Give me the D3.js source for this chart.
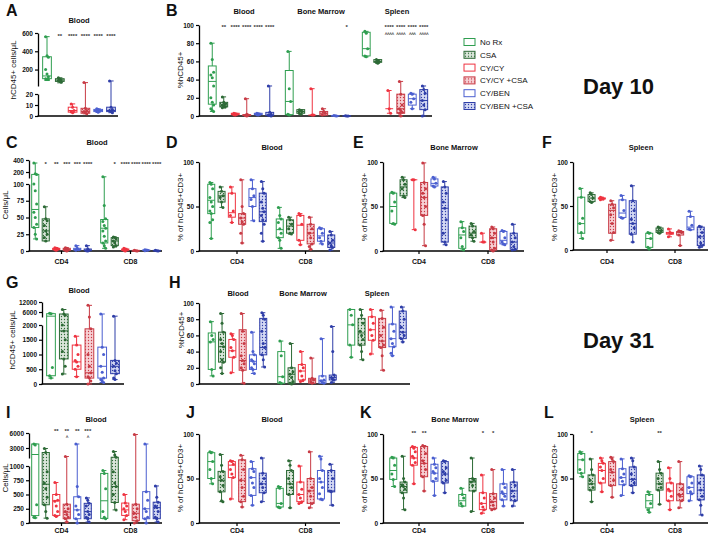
<!DOCTYPE html>
<html>
<head>
<meta charset="utf-8">
<script src="https://cdn.jsdelivr.net/npm/d3@7"></script>
<style>
body { margin: 0; background: #fff; }
svg { display: block; font-family: "Liberation Sans", Arial, sans-serif; }
</style>
</head>
<body>
<svg id="chart"></svg>
<script>
// treatment groups (legend order)
const treatments = ["No Rx", "CSA", "CY/CY", "CY/CY +CSA", "CY/BEN", "CY/BEN +CSA"]

// each box: [min, q1, median, q3, max]; each pts list: the dots drawn on that box
// A - Blood, hCD45+ cells/uL (day 10)
const aBox = [[80,100,130,340,560],[55,70,85,100,110],[3,3.5,5,8,11],[2,2.5,4,7,57],[3.5,4,5,6,6.5],[3,4,5,8,75]]
const aPts = [[560,350,335,200,150,120,100,95,90],[110,95,85,80,70,60],[11,8,5,4,3],[57,7,5,4,3,2],[6.5,6,5,4,3.5],[75,8,6,5,4,3]]
const aStars = ["","**","****","****","****","****"]

// B - %hCD45+ in Blood / Bone Marrow / Spleen (day 10)
const bBox = [
  [5,13,38,55,80],[9,10,12,15,21],[1,1.5,2,3,3],[0,0.5,1,1.5,19],[1,1.5,2,3,3],[0,0.5,1,4,33],
  [1,1.5,16,50,71],[2,3,5,7,7],[1,1,1,1,30],[0.5,1,3,5,8],[0,0,0.3,0.5,0.5],[0,0,0.1,0.2,0.3],
  [65,66,74,92,93],[58,59,60,62,62],[3,8,8,8,28],[0,3,8,24,38],[8,12,19,24,25],[0,7,17,29,33]]
const bPts = [
  [80,62,48,45,42,33,20,15,12,8,6,5],[21,15,13,12,11,10,9],[3,2.5,2,1.5,1],[19,2,1,0.5,0],[3,2.5,2,1.5,1],[33,4,2,1,0.5,0],
  [71,30,16,2,1],[7,6,5,3,2],[30,1,1],[8,5,3,1],[0.5,0.3,0],[0.3,0.1,0],
  [93,91,74,66,65],[62,61,60,59,58],[28,8,3],[38,24,12,8,6,4,3,0],[25,24,19,15,8],[33,29,25,17,12,7,0]]
const bStars = ["","**","****","****","****","****", "","","","","","*", "","","****","****","****","****"]
const bStars2 = ["","","","","","", "","","","","","", "","","^^^^","^^^^","^^^","^^^^"]

// C - Blood CD4 / CD8 cells/uL (day 10)
const cBox = [
  [18,35,62,160,350],[15,15,30,48,66],[1,2,3,4,5],[0,1,2,4,5],[1,1.5,2,4,8],[0,0.5,1,3,8],
  [4,12,34,47,120],[6,8,15,20,21],[0,1,2,3,4],[0,0,0.5,1,1],[0.5,1,1,1.5,2],[0,0.3,0.5,1,1]]
const cPts = [
  [350,170,160,100,90,70,58,50,40,35,25,18],[66,48,45,38,30,25,20,15],[5,4,3,2,1],[5,4,2,1,0],[8,4,2,1],[8,3,1,0.5,0],
  [120,68,48,44,38,34,30,22,15,12,8,4],[21,20,18,15,12,8,6],[4,3,2,1,0],[1,0.5,0],[2,1.5,1,0.5],[1,0.5,0]]
const cStars = ["","*","**","***","***","****", "","*","****","****","****","****"]

// D, E, F - % of hCD45+CD3+ (day 10)
const dBox = [
  [14,42,57,75,77],[49,55,62,67,72],[32,38,43,65,72],[9,30,37,42,80],[34,50,60,70,80],[11,33,44,65,78],
  [3,15,24,36,49],[19,20,28,35,38],[7,12,29,40,42],[2,8,20,30,38],[8,11,17,25,26],[1,4,9,18,22]]
const dPts = [
  [77,75,70,60,55,50,45,42,35,32,14],[72,67,62,60,55,49],[72,65,45,40,32],[80,50,42,37,33,30,20,9],[80,70,62,58,50,34],[78,70,65,55,48,44,40,35,30,20,11],
  [49,40,36,32,25,20,15,12,3],[38,35,30,25,20,19],[42,40,30,12,7],[38,30,25,20,15,8,5,2],[26,25,20,15,11,8],[22,18,12,9,6,4,1]]
const eBox = [
  [30,31,50,65,66],[60,62,72,80,83],[24,80,80,80,80],[6,40,60,77,99],[72,73,76,81,83],[7,10,48,72,78],
  [1,3,18,26,33],[11,15,20,28,31],[10,10,10,10,20],[0,1,15,25,27],[7,8,12,22,23],[1,2,10,20,30]]
const ePts = [
  [66,65,55,45,31,30],[83,80,75,70,62,60],[80,80,24],[99,77,70,65,60,50,40,30,6],[83,81,76,73,72],[78,72,65,55,48,35,20,10,7],
  [33,26,22,15,5,1],[31,28,22,18,15,11],[20,10,10],[27,25,20,15,10,3,1,0],[23,22,15,10,8,7],[30,20,15,10,5,2,1]]
const fBox = [
  [13,19,30,60,70],[54,55,59,63,65],[57,58,59,59,60],[11,19,45,52,56],[36,37,42,57,62],[9,18,30,56,73],
  [1,3,13,19,20],[19,20,22,25,26],[15,18,19,20,24],[5,17,20,21,22],[23,23,26,38,44],[3,5,15,26,27]]
const fPts = [
  [70,60,36,30,20,13],[65,63,59,55,54],[60,59,58,57],[56,52,48,40,30,20,11],[62,57,45,37,36],[73,56,45,35,30,25,18,9],
  [20,19,13,3,1],[26,25,22,20,19],[24,20,19,15],[22,21,20,17,5],[44,38,28,24,23],[27,26,20,15,8,5,3]]

// G - Blood hCD45+ cells/uL (day 31)
const gBox = [[200,280,3500,5000,5200],[340,850,1800,4800,7500],[250,500,750,1320,1620],[0,200,380,1870,10000],[50,200,600,1250,4800],[150,350,600,800,3500]]
const gPts = [[5200,5000,560,280,200],[7500,4800,4000,2000,1800,1500,1100,850,600,340],[1620,1320,1000,800,750,600,500,250],[10000,3000,1870,1000,600,380,250,200,100,0],[4800,1250,1000,600,400,200,150,100,50],[3500,800,700,600,450,350,200,150]]

// H - %hCD45+ (day 31)
const hBox = [
  [10,18,52,63,77],[13,27,46,64,87],[14,33,41,55,62],[1,17,29,67,87],[13,18,28,36,64],[21,36,45,81,88],
  [1,1,9,40,53],[0,1,12,20,50],[3,5,16,24,40],[1,1,5,7,32],[1,1,4,10,56],[2,5,8,11,71],
  [33,48,73,92,92],[30,48,63,81,92],[37,54,67,83,92],[17,45,53,81,91],[35,46,56,74,95],[52,56,64,90,95]]
const hPts = [
  [77,60,55,52,18,10],[87,75,64,55,50,46,40,30,27,20,13],[62,60,55,45,41,33,14],[87,65,50,35,29,25,20,17,1],[64,40,36,30,28,25,20,18,13],[88,85,80,65,50,45,36,30,21],
  [53,35,9,2,1],[50,20,15,12,8,3,1,0],[40,24,20,16,10,5,3],[32,7,5,3,1],[56,10,5,4,2,1],[71,40,11,8,6,5,2],
  [92,85,73,48,33],[92,85,75,65,60,55,48,40,30],[92,83,75,67,60,54,37],[91,81,70,60,53,48,45,35,17],[95,74,65,56,50,46,38,35],[95,90,80,70,64,60,56,52]]

// I - Blood CD4 / CD8 cells/uL (day 31)
const iBox = [
  [90,130,1700,3800,3800],[85,320,680,2100,2900],[115,133,390,500,710],[17,75,190,330,1300],[0,75,230,460,3800],[17,75,200,345,440],
  [75,80,390,870,920],[230,360,640,1150,2300],[58,133,230,350,500],[0,40,170,330,5700],[0,75,250,550,3800],[17,75,270,365,650]]
const iPts = [
  [3800,3600,320,100,90],[2900,2100,900,700,600,450,320,200,85],[710,500,400,380,300,200,133,115],[1300,330,250,200,150,100,75,17],[3800,640,460,300,230,150,75,0],[440,400,345,300,200,150,100,75,17],
  [920,870,600,200,100,75],[2300,1600,1150,900,700,640,500,360,230],[500,350,300,250,200,133,58],[5700,330,250,170,100,40,0],[3800,550,400,250,200,100,75,0],[650,450,365,300,270,200,100,75,17]]
const iStars = ["","","**","**","**","***", "","","","","",""]
const iStars2 = ["","","","^","","^", "","","","","",""]

// J, K, L - % of hCD45+CD3+ (day 31)
const jBox = [
  [44,50,69,79,80],[24,35,48,58,77],[27,51,65,69,70],[18,24,48,71,76],[20,31,51,61,69],[24,34,44,56,73],
  [17,18,22,39,41],[17,32,44,59,70],[22,24,32,46,64],[17,22,36,50,80],[26,27,46,59,75],[20,35,36,59,66]]
const jPts = [
  [80,79,69,60,50,44],[77,65,58,52,48,42,35,25,24],[70,69,66,60,55,51,27],[76,71,60,48,40,30,24,18],[69,61,58,51,45,40,31,20],[73,56,50,44,40,34,24],
  [41,39,22,18,17],[70,65,59,50,44,40,32,17],[64,46,38,32,28,24,22],[80,50,40,36,30,22,17],[75,72,59,50,46,40,33,27,26],[66,59,50,36,35,20]]
const kBox = [
  [41,49,59,73,74],[15,34,41,46,75],[44,65,73,85,86],[36,52,67,86,87],[31,47,56,66,73],[34,45,55,69,70],
  [19,19,25,32,39],[13,36,46,50,73],[11,15,22,34,54],[15,16,24,33,60],[19,26,33,44,60],[19,25,36,46,60]]
const kPts = [
  [74,73,65,55,49,41],[75,50,46,43,41,38,34,28,15],[86,84,80,75,73,68,65,44],[87,86,78,70,67,60,52,36],[73,66,62,58,56,50,47,31],[70,69,62,58,55,48,45,34],
  [39,32,28,22,19],[73,50,48,46,42,36,13],[54,34,28,22,18,15,11],[60,33,28,24,20,16,15],[60,44,40,35,33,30,26,19],[60,46,42,36,30,25,19]]
const kStars = ["","","**","**","","", "","","*","*","",""]
const lBox = [
  [52,56,71,78,80],[24,37,44,54,72],[35,45,59,67,73],[29,42,57,69,74],[31,43,51,61,72],[34,42,49,63,73],
  [12,17,25,32,35],[21,37,44,56,69],[15,25,36,45,62],[17,25,32,44,69],[25,33,40,52,53],[9,26,37,54,64]]
const lPts = [
  [80,78,71,60,56,52],[72,60,54,48,44,40,37,24],[73,70,67,63,59,50,45,35],[74,72,69,60,57,48,42,29],[72,61,55,51,47,43,31],[73,70,63,55,49,45,42,34],
  [35,32,22,15,12],[69,60,56,50,44,40,37,21],[62,50,45,38,36,30,25,15],[69,44,38,32,30,25,17],[53,52,45,40,35,33,25],[64,60,54,45,37,30,26,20,9]]
const lStars = ["","*","","","","", "","**","","","",""]

const cdGroups = ["CD4", "CD8"]

let width = 708
let height = 535
let svg = d3.select('#chart').attr('width', width).attr('height', height)

const colors = ["#2f9e50", "#2d6a36", "#ef3340", "#c83b45", "#4b5fd0", "#2f3ea8"]
const tints = [null, "#dbe6db", null, "#f6d0d4", null, "#d3d8f3"]

let defs = svg.append('defs')
tints.forEach((t, i) => {
    if (!t) return
    let pat = defs.append('pattern')
        .attr('id', 'pat' + i)
        .attr('width', 3).attr('height', 3)
        .attr('patternUnits', 'userSpaceOnUse')
    pat.append('rect').attr('width', 3).attr('height', 3).attr('fill', t)
    pat.append('circle').attr('cx', 1.5).attr('cy', 1.5).attr('r', 0.65).attr('fill', colors[i])
})
let boxFill = i => tints[i] ? 'url(#pat' + i + ')' : '#fff'

// piecewise scale for broken axes
let makeY = segs => {
    let scales = segs.map(s => d3.scaleLinear().domain(s.d).range(s.r))
    return v => {
        for (let k = 0; k < segs.length; k++) {
            if (v <= segs[k].d[1] || k == segs.length - 1) return scales[k](v)
        }
    }
}

let txt = (x, y, s, size, weight, anchor) => svg.append('text')
    .attr('x', x).attr('y', y).text(s)
    .attr('font-size', size).attr('font-weight', weight || 'normal')
    .attr('text-anchor', anchor || 'middle').attr('fill', '#111')

let drawPanel = p => {
    let g = svg.append('g')
    let y = makeY(p.segs)
    let bw = p.step * 0.68

    // y axis pieces
    p.segs.forEach(s => {
        let sc = d3.scaleLinear().domain(s.d).range(s.r)
        let ax = g.append('g')
            .attr('transform', 'translate(' + p.x0 + ',0)')
            .call(d3.axisLeft(sc).tickValues(s.t).tickSize(3).tickSizeOuter(0).tickPadding(2).tickFormat(d3.format('d')))
        ax.select('.domain').attr('stroke-width', 1.3)
        ax.selectAll('.tick line').attr('stroke-width', 1.2)
        ax.selectAll('text').attr('font-size', 6.5).attr('font-weight', 'bold')
            .attr('font-family', '"Liberation Sans", Arial, sans-serif').attr('fill', '#111')
    })

    // x axis
    let yb = p.segs[0].r[0]
    g.append('line').attr('x1', p.x0 - 0.5).attr('x2', p.x1).attr('y1', yb).attr('y2', yb)
        .attr('stroke', '#000').attr('stroke-width', 1.3)

    let items = p.box.map((b, j) => {
        let gi = Math.floor(j / 6), i = j % 6
        return { b: b, pts: p.pts[j], i: i, cx: p.centers[gi] + (i - 2.5) * p.step }
    })

    if (p.xlabels) {
        p.centers.forEach((c, k) => {
            g.append('line').attr('x1', c).attr('x2', c).attr('y1', yb).attr('y2', yb + 3)
                .attr('stroke', '#000').attr('stroke-width', 1.2)
            txt(c, p.xlabY, p.xlabels[k], 7, 'bold')
        })
    }

    let bg = g.selectAll('g.box').data(items).enter().append('g').attr('class', 'box')
    bg.append('line')
        .attr('x1', d => d.cx).attr('x2', d => d.cx)
        .attr('y1', d => y(d.b[0])).attr('y2', d => y(d.b[4]))
        .attr('stroke', d => colors[d.i]).attr('stroke-width', 1)
    bg.selectAll('line.cap').data(d => [d.b[0], d.b[4]].map(v => ({ v: v, cx: d.cx, i: d.i })))
        .enter().append('line').attr('class', 'cap')
        .attr('x1', d => d.cx - bw * 0.3).attr('x2', d => d.cx + bw * 0.3)
        .attr('y1', d => y(d.v)).attr('y2', d => y(d.v))
        .attr('stroke', d => colors[d.i]).attr('stroke-width', 1)
    bg.append('rect')
        .attr('x', d => d.cx - bw / 2).attr('width', bw)
        .attr('y', d => y(d.b[3])).attr('height', d => Math.max(0, y(d.b[1]) - y(d.b[3])))
        .attr('fill', d => boxFill(d.i)).attr('stroke', d => colors[d.i]).attr('stroke-width', 1)
    bg.append('line')
        .attr('x1', d => d.cx - bw / 2).attr('x2', d => d.cx + bw / 2)
        .attr('y1', d => y(d.b[2])).attr('y2', d => y(d.b[2]))
        .attr('stroke', d => colors[d.i]).attr('stroke-width', 1)
    bg.selectAll('circle').data(d => d.pts.map((v, k) => ({ v: v, k: k, cx: d.cx, i: d.i })))
        .enter().append('circle')
        .attr('cx', d => d.cx + ((d.k % 3) - 1) * 1.4)
        .attr('cy', d => y(d.v))
        .attr('r', 1.5)
        .attr('fill', d => colors[d.i])

    // significance marks (asterisks row, caret row is set smaller)
    ;(p.stars || []).forEach(row => {
        let fs = row.fs || 6
        row.s.forEach((s, j) => {
            if (s) txt(items[j].cx, row.y + 3, s, fs, 'bold').attr('fill', '#333')
                .attr('letter-spacing', row.fs ? -0.4 : 0)
        })
    })

    p.titles.forEach(t => txt(t[1], t[2], t[0], 7.5, 'bold'))
    txt(p.lx, p.ly, p.letter, 16, 'bold', 'start')
    svg.append('text').text(p.ylab[0])
        .attr('transform', 'translate(' + p.ylab[1] + ',' + p.ylab[2] + ') rotate(-90)')
        .attr('text-anchor', 'middle').attr('dominant-baseline', 'middle')
        .attr('font-size', 8).attr('fill', '#111')
}

let pctTicks = [0, 50, 100]
let pct20 = [0, 20, 40, 60, 80, 100]
let cd3Label = "% of hCD45+CD3+"

let panels = [
    { letter: "A", lx: 6, ly: 16, x0: 38, x1: 118, centers: [79], step: 12.8, box: aBox, pts: aPts,
      segs: [{ d: [0, 20], r: [116, 94], t: [0, 10, 20] }, { d: [20, 600], r: [86, 33], t: [200, 400, 600] }],
      stars: [{ y: 35, s: aStars }], titles: [["Blood", 79, 23]], ylab: ["hCD45+ cells/μL", 14, 70] },
    { letter: "B", lx: 166, ly: 16, x0: 199, x1: 432, centers: [241, 318, 395], step: 11.5, box: bBox, pts: bPts,
      segs: [{ d: [0, 100], r: [116, 25], t: pct20 }],
      stars: [{ y: 26, s: bStars }, { y: 33, s: bStars2, fs: 4.5 }],
      titles: [["Blood", 244, 14], ["Bone Marrow", 321, 14], ["Spleen", 397, 14]], ylab: ["%hCD45+", 181, 70] },
    { letter: "C", lx: 6, ly: 148, x0: 29, x1: 162, centers: [61.5, 130.5], step: 10.5, box: cBox, pts: cPts,
      segs: [{ d: [0, 100], r: [251, 184], t: [0, 25, 50, 75, 100] }, { d: [100, 400], r: [178, 160], t: [200, 400] }],
      stars: [{ y: 163, s: cStars }], titles: [["Blood", 97, 145]], ylab: ["Cells/μL", 6, 205],
      xlabels: cdGroups, xlabY: 264 },
    { letter: "D", lx: 166, ly: 148, x0: 199, x1: 340, centers: [237, 305.5], step: 10.3, box: dBox, pts: dPts,
      segs: [{ d: [0, 100], r: [251, 162], t: pctTicks }], titles: [["Blood", 272, 150]], ylab: [cd3Label, 181, 207],
      xlabels: cdGroups, xlabY: 264 },
    { letter: "E", lx: 353, ly: 148, x0: 383, x1: 524, centers: [419, 488], step: 10.3, box: eBox, pts: ePts,
      segs: [{ d: [0, 100], r: [251, 162], t: pctTicks }], titles: [["Bone Marrow", 454, 150]], ylab: [cd3Label, 365, 207],
      xlabels: cdGroups, xlabY: 264 },
    { letter: "F", lx: 542, ly: 148, x0: 573, x1: 708, centers: [607, 675], step: 10.3, box: fBox, pts: fPts,
      segs: [{ d: [0, 100], r: [250, 162], t: pctTicks }], titles: [["Spleen", 641, 150]], ylab: [cd3Label, 555, 207],
      xlabels: cdGroups, xlabY: 264 },
    { letter: "G", lx: 6, ly: 288, x0: 42, x1: 124, centers: [83], step: 12.8, box: gBox, pts: gPts,
      segs: [{ d: [0, 2000], r: [384, 325], t: [0, 500, 1000, 1500, 2000] }, { d: [3000, 12000], r: [317, 302], t: [6000, 12000] }],
      titles: [["Blood", 79, 293]], ylab: ["hCD45+ cells/μL", 13, 340] },
    { letter: "H", lx: 169, ly: 288, x0: 199, x1: 410, centers: [237.5, 307, 377], step: 10.3, box: hBox, pts: hPts,
      segs: [{ d: [0, 100], r: [384, 303], t: pct20 }],
      titles: [["Blood", 238, 296], ["Bone Marrow", 303, 296], ["Spleen", 377, 296]], ylab: ["%hCD45+", 182, 330] },
    { letter: "I", lx: 6, ly: 418, x0: 29, x1: 162, centers: [61.5, 130.5], step: 10.5, box: iBox, pts: iPts,
      segs: [{ d: [0, 1000], r: [523, 466], t: [0, 250, 500, 750, 1000] }, { d: [1000, 6000], r: [458, 433], t: [3000, 6000] }],
      stars: [{ y: 430, s: iStars }, { y: 436, s: iStars2, fs: 4.5 }], titles: [["Blood", 96, 422]], ylab: ["Cells/μL", 6, 478],
      xlabels: cdGroups, xlabY: 533 },
    { letter: "J", lx: 186, ly: 418, x0: 199, x1: 340, centers: [237, 305.5], step: 10.3, box: jBox, pts: jPts,
      segs: [{ d: [0, 100], r: [523, 434], t: pctTicks }], titles: [["Blood", 272, 422]], ylab: [cd3Label, 181, 478],
      xlabels: cdGroups, xlabY: 533 },
    { letter: "K", lx: 360, ly: 418, x0: 383, x1: 524, centers: [419, 488], step: 10.3, box: kBox, pts: kPts,
      segs: [{ d: [0, 100], r: [523, 434], t: pctTicks }], stars: [{ y: 432, s: kStars }],
      titles: [["Bone Marrow", 455, 422]], ylab: [cd3Label, 365, 478], xlabels: cdGroups, xlabY: 533 },
    { letter: "L", lx: 544, ly: 418, x0: 573, x1: 708, centers: [607, 675], step: 10.3, box: lBox, pts: lPts,
      segs: [{ d: [0, 100], r: [523, 434], t: pctTicks }], stars: [{ y: 432, s: lStars }],
      titles: [["Spleen", 642, 422]], ylab: [cd3Label, 555, 478], xlabels: cdGroups, xlabY: 533 }
]

panels.forEach(drawPanel)

// legend
let legend = svg.append('g').attr('transform', 'translate(464,42)')
let rows = legend.selectAll('g').data(treatments).enter().append('g')
    .attr('transform', (d, i) => 'translate(0,' + (i * 12.8) + ')')
rows.append('rect').attr('x', 0).attr('y', -3.5).attr('width', 11).attr('height', 7)
    .attr('fill', (d, i) => boxFill(i)).attr('stroke', (d, i) => colors[i]).attr('stroke-width', 1)
rows.append('text').attr('x', 16).attr('y', 3).text(d => d)
    .attr('font-size', 8).attr('fill', '#111')

txt(583, 94, "Day 10", 22, 'bold', 'start')
txt(583, 348, "Day 31", 22, 'bold', 'start')
</script>
</body>
</html>
